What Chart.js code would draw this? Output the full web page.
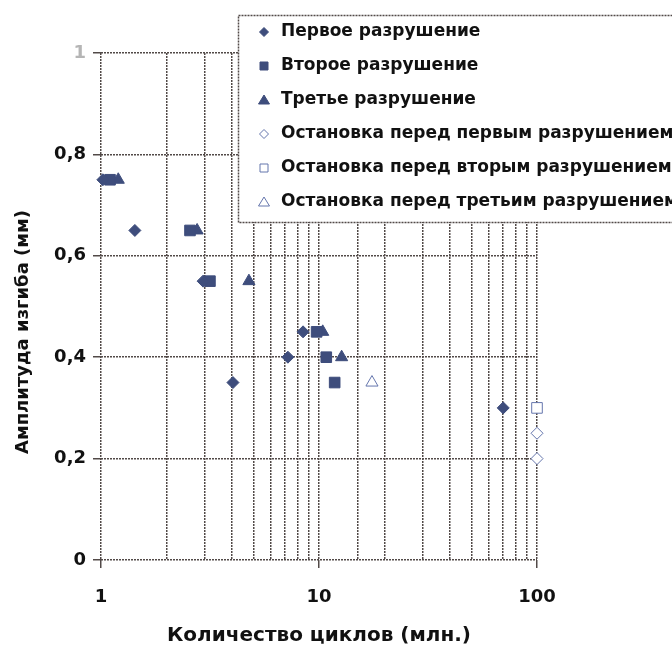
<!DOCTYPE html>
<html>
<head>
<meta charset="utf-8">
<script src="https://cdn.jsdelivr.net/npm/chart.js@4.4.1/dist/chart.umd.min.js"></script>
<style>
  html, body { margin: 0; padding: 0; background: #fff; }
</style>
</head>
<body>
<canvas id="chart" width="672" height="652"></canvas>
<script>
// values (x in million cycles, y in mm)
const seriesLabels = [
    'Первое разрушение',
    'Второе разрушение',
    'Третье разрушение',
    'Остановка перед первым разрушением',
    'Остановка перед вторым разрушением',
    'Остановка перед третьим разрушением'
];
const firstX = [1.02, 1.43, 2.94, 4.03, 7.2, 8.45, 70];
const firstY = [0.75, 0.65, 0.55, 0.35, 0.4, 0.45, 0.3];
const secondX = [1.1, 2.56, 3.16, 9.75, 10.8, 11.8];
const secondY = [0.75, 0.65, 0.55, 0.45, 0.4, 0.35];
const thirdX = [1.2, 2.76, 4.77, 10.4, 12.7];
const thirdY = [0.75, 0.65, 0.55, 0.45, 0.4];
const stopFirstX = [100, 100];
const stopFirstY = [0.25, 0.2];
const stopSecondX = [100];
const stopSecondY = [0.3];
const stopThirdX = [17.5];
const stopThirdY = [0.35];

const xTickLabels = [1, 10, 100];
const yTickLabels = ['0', '0,2', '0,4', '0,6', '0,8', '1'];
const xTitle = 'Количество циклов (млн.)';
const yTitle = 'Амплитуда изгиба (мм)';

const FONT = '"DejaVu Sans", sans-serif';
const FILLED = '#3e4d7c';
const HOLLOW = '#6576ad';
const GRID = '#524a48';

function toPoints(xs, ys) {
    return xs.map((x, i) => ({ x: x, y: ys[i] }));
}

function makeSet(i, xs, ys, style, filled, radius) {
    return {
        label: seriesLabels[i],
        data: toPoints(xs, ys),
        pointStyle: style,
        pointRadius: radius,
        pointHoverRadius: radius,
        backgroundColor: filled ? FILLED : '#ffffff',
        borderColor: filled ? FILLED : HOLLOW,
        borderWidth: 1,
        showLine: false,
        clip: false
    };
}

function drawMarker(ctx, style, x, y, r) {
    ctx.beginPath();
    if (style === 'rectRot') {
        ctx.moveTo(x, y - r);
        ctx.lineTo(x + r, y);
        ctx.lineTo(x, y + r);
        ctx.lineTo(x - r, y);
    } else if (style === 'rect') {
        ctx.rect(x - r, y - r, 2 * r, 2 * r);
    } else {
        ctx.moveTo(x, y - r);
        ctx.lineTo(x + r * 1.1, y + r * 0.8);
        ctx.lineTo(x - r * 1.1, y + r * 0.8);
    }
    ctx.closePath();
    ctx.fill();
    ctx.stroke();
}

// legend box over the plot and the rotated y title
const overlayPlugin = {
    id: 'overlay',
    afterDraw(chart) {
        const ctx = chart.ctx;

        ctx.save();
        ctx.translate(23, 332);
        ctx.rotate(-Math.PI / 2);
        ctx.font = 'bold 18px ' + FONT;
        ctx.fillStyle = '#111';
        ctx.textAlign = 'center';
        ctx.textBaseline = 'middle';
        ctx.fillText(yTitle, 0, 0);
        ctx.restore();

        ctx.save();
        ctx.fillStyle = '#ffffff';
        ctx.fillRect(238, 15, 480, 207);
        ctx.strokeStyle = GRID;
        ctx.lineWidth = 1.5;
        ctx.setLineDash([2, 1]);
        ctx.strokeRect(238.5, 15.5, 480, 207);
        ctx.setLineDash([]);

        const sizes = { rectRot: 4.5, rect: 4, triangle: 5 };
        chart.data.datasets.forEach((ds, i) => {
            const y = 32 + i * 34;
            ctx.fillStyle = ds.backgroundColor;
            ctx.strokeStyle = ds.borderColor;
            ctx.lineWidth = 1;
            drawMarker(ctx, ds.pointStyle, 264, y, sizes[ds.pointStyle]);
            ctx.fillStyle = '#111';
            ctx.font = 'bold 17px ' + FONT;
            ctx.textAlign = 'left';
            ctx.textBaseline = 'middle';
            ctx.fillText(ds.label, 281, y);
        });
        ctx.restore();
    }
};

new Chart(document.getElementById('chart'), {
    type: 'scatter',
    data: {
        datasets: [
            makeSet(0, firstX, firstY, 'rectRot', true, 6),
            makeSet(1, secondX, secondY, 'rect', true, 7.5),
            makeSet(2, thirdX, thirdY, 'triangle', true, 7),
            makeSet(3, stopFirstX, stopFirstY, 'rectRot', false, 6),
            makeSet(4, stopSecondX, stopSecondY, 'rect', false, 7.5),
            makeSet(5, stopThirdX, stopThirdY, 'triangle', false, 7)
        ]
    },
    options: {
        responsive: false,
        animation: false,
        events: [],
        layout: { padding: { left: 0, top: 53, right: 135, bottom: 0 } },
        plugins: {
            legend: { display: false },
            tooltip: { enabled: false }
        },
        scales: {
            x: {
                type: 'logarithmic',
                min: 1,
                max: 100,
                afterFit: scale => { scale.height = 92; },
                border: { display: false, dash: [2, 1] },
                grid: {
                    color: GRID,
                    lineWidth: 1.5,
                    tickLength: 8,
                    tickColor: c => xTickLabels.includes(c.tick && c.tick.value) ? GRID : 'rgba(0,0,0,0)'
                },
                ticks: {
                    autoSkip: false,
                    maxRotation: 0,
                    padding: 19,
                    color: '#111',
                    font: { family: FONT, size: 18, weight: 'bold' },
                    callback: value => xTickLabels.includes(value) ? String(value) : ''
                },
                title: {
                    display: true,
                    text: xTitle,
                    color: '#111',
                    font: { family: FONT, size: 20, weight: 'bold' },
                    padding: { top: 0, bottom: 4 }
                }
            },
            y: {
                type: 'linear',
                min: 0,
                max: 1,
                afterFit: scale => { scale.width = 101; },
                border: { display: false, dash: [2, 1] },
                grid: {
                    color: GRID,
                    lineWidth: 1.5,
                    tickLength: 8,
                    tickColor: GRID
                },
                ticks: {
                    stepSize: 0.2,
                    padding: 7,
                    color: c => c.index === yTickLabels.length - 1 ? '#b5b5b5' : '#111',
                    font: { family: FONT, size: 18, weight: 'bold' },
                    callback: (value, index) => yTickLabels[index]
                }
            }
        }
    },
    plugins: [overlayPlugin]
});
</script>
</body>
</html>
